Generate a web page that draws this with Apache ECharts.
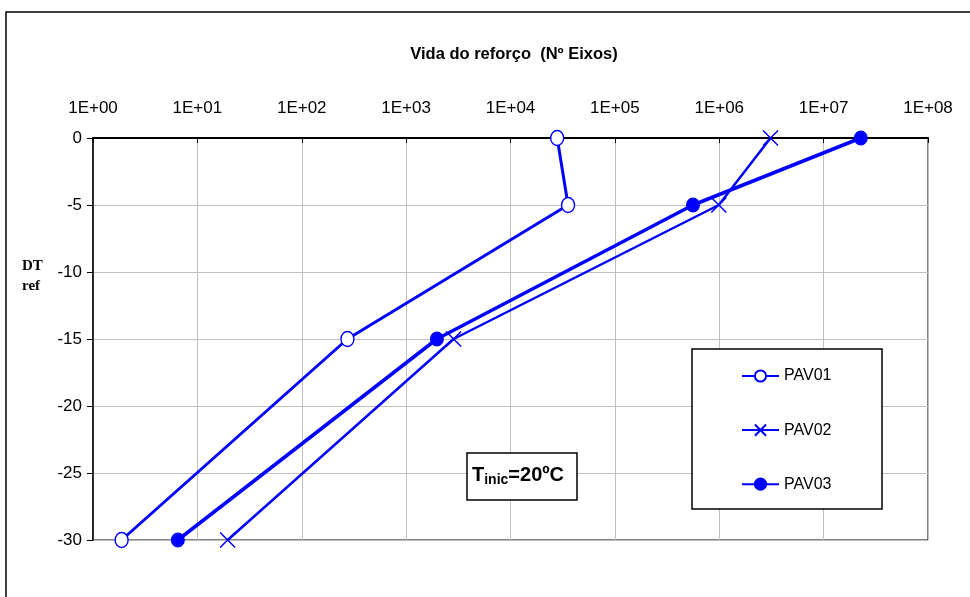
<!DOCTYPE html>
<html>
<head>
<meta charset="utf-8">
<script src="https://cdn.jsdelivr.net/npm/echarts@6/dist/echarts.min.js"></script>
<style>
  html, body { margin: 0; padding: 0; background: #fff; }
  #container { width: 970px; height: 597px; }
</style>
</head>
<body>
<div id="container"></div>
<script>
// Datos
var niveles = [0, -5, -15, -30];           // DT ref
var pav01 = [28000, 35600, 274, 1.88];     // Nº ejes
var pav02 = [3.1e6, 9.9e5, 2850, 19.5];
var pav03 = [2.27e7, 5.6e5, 1970, 6.5];
var nombres = ['PAV01', 'PAV02', 'PAV03'];

var fuente = '"Liberation Sans", Arial, sans-serif';
var azul = '#0000ff';

function pares(xs) {
    return xs.map(function (x, i) { return [x, niveles[i]]; });
}

document.addEventListener('DOMContentLoaded', function () {
    var myChart = echarts.init(document.getElementById('container'));

    var option = {
        animation: false,
        title: {
            text: 'Vida do reforço  (Nº Eixos)',
            left: 509,
            textAlign: 'center',
            top: 41,
            textStyle: { fontFamily: fuente, fontSize: 16.5, fontWeight: 'bold', color: '#000' }
        },
        grid: {
            left: 93, top: 138, right: 42, bottom: 57,
            show: true, borderColor: '#000', borderWidth: 1, backgroundColor: 'transparent'
        },
        xAxis: {
            type: 'log',
            logBase: 10,
            position: 'top',
            min: 1,
            max: 1e8,
            axisLine: { show: true, lineStyle: { color: '#000', width: 2 } },
            axisTick: { show: true, inside: true, length: 5, lineStyle: { color: '#000' } },
            minorTick: { show: false },
            axisLabel: {
                margin: 21,
                fontFamily: fuente, fontSize: 17, color: '#000',
                formatter: function (v) {
                    var e = Math.round(Math.log10(v));
                    return '1E+' + (e < 10 ? '0' : '') + e;
                }
            },
            splitLine: { show: true, lineStyle: { color: '#c0c0c0', width: 1 } }
        },
        yAxis: {
            type: 'value',
            min: -30,
            max: 0,
            interval: 5,
            axisLine: { show: true, onZero: false, lineStyle: { color: '#000', width: 1.5 } },
            axisTick: { show: true, length: 6, lineStyle: { color: '#000' } },
            axisLabel: { margin: 11, fontFamily: fuente, fontSize: 17, color: '#000' },
            splitLine: { show: true, lineStyle: { color: '#c0c0c0', width: 1 } }
        },
        legend: {
            orient: 'vertical',
            left: 741,
            top: 368,
            padding: 0,
            itemGap: 38,
            itemWidth: 37,
            itemHeight: 14,
            z: 10,
            textStyle: { fontFamily: fuente, fontSize: 16, color: '#000' },
            data: nombres
        },
        graphic: [
            {
                type: 'rect',
                shape: { x: 6, y: 12, width: 1000, height: 1000 },
                style: { fill: 'none', stroke: '#000', lineWidth: 1.5 },
                z: 0, silent: true
            },
            {
                type: 'rect',
                shape: { x: 692, y: 349, width: 190, height: 160 },
                style: { fill: '#fff', stroke: '#000', lineWidth: 1.5 },
                z: 5, silent: true
            },
            {
                type: 'rect',
                shape: { x: 467, y: 453, width: 110, height: 47 },
                style: { fill: '#fff', stroke: '#000', lineWidth: 1.5 },
                z: 5, silent: true
            },
            {
                type: 'text',
                left: 472, top: 463, z: 6,
                style: {
                    text: '{b|T}{s|inic}{b|=20ºC}',
                    rich: {
                        b: { fontFamily: fuente, fontSize: 20, fontWeight: 'bold', fill: '#000', lineHeight: 25 },
                        s: { fontFamily: fuente, fontSize: 14, fontWeight: 'bold', fill: '#000', padding: [10, 0, 0, 0], lineHeight: 25 }
                    }
                }
            },
            {
                type: 'text',
                left: 22, top: 256, z: 6,
                style: {
                    text: 'DT\nref',
                    font: 'bold 15px "Liberation Serif", "Times New Roman", serif',
                    fill: '#000',
                    lineHeight: 20
                }
            }
        ],
        series: [
            {
                name: nombres[0],
                type: 'line',
                data: pares(pav01),
                symbol: 'circle',
                symbolSize: [13, 15],
                z: 3,
                lineStyle: { color: azul, width: 3 },
                itemStyle: { color: '#fff', borderColor: azul, borderWidth: 1.5 }
            },
            {
                name: nombres[1],
                type: 'line',
                data: pares(pav02),
                symbol: 'path://M0,0L10,10M10,0L0,10',
                symbolSize: 15,
                z: 3,
                lineStyle: { color: azul, width: 2.5 },
                itemStyle: { color: 'none', borderColor: azul, borderWidth: 1.5 }
            },
            {
                name: nombres[2],
                type: 'line',
                data: pares(pav03),
                symbol: 'circle',
                symbolSize: [13, 14],
                z: 3,
                lineStyle: { color: azul, width: 3.5 },
                itemStyle: { color: azul, borderColor: azul, borderWidth: 1 }
            }
        ]
    };

    myChart.setOption(option);
    window.addEventListener('resize', myChart.resize);
});
</script>
</body>
</html>
